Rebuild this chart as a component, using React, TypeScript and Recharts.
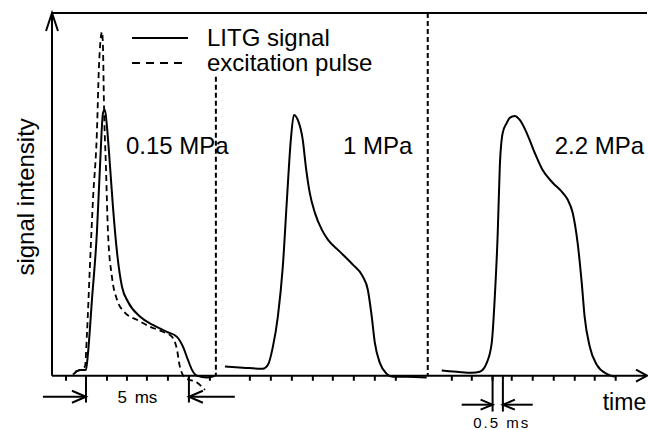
import { ComposedChart, Line, XAxis, YAxis, ReferenceLine, ReferenceDot, Legend } from "recharts";

const FONT = "'Liberation Sans', Arial, Helvetica, sans-serif";

// [time in ms, signal intensity in a.u. (100 = top of frame)]
const litg015 = [
  [1.02, 0.3], [1.36, 1.6], [1.65, 1.6], [1.75, 6.3], [1.94, 20.9], [2.18, 39.4], [2.33, 57.6],
  [2.48, 72.5], [2.57, 73.3], [2.67, 68.6], [2.82, 57.6], [2.96, 46.6], [3.16, 33.9], [3.4, 24.5],
  [3.69, 20.4], [4.27, 16.3], [4.9, 14.0], [5.58, 12.1], [6.07, 10.7], [6.36, 8.0], [6.6, 4.4],
  [6.8, 1.6], [7.04, 0], [7.52, -0.5], [7.91, 0],
];
const pulse015 = [
  [1.12, 1.1], [1.6, 2.5], [1.7, 11.8], [1.84, 30.0], [1.99, 48.5], [2.18, 66.9], [2.28, 85.1],
  [2.43, 94.8], [2.48, 89.8], [2.52, 76.0], [2.62, 57.6], [2.72, 39.4], [2.91, 27.3], [3.16, 20.9],
  [3.54, 17.4], [4.13, 15.4], [4.76, 13.5], [5.39, 12.1], [5.83, 10.7], [6.07, 7.2], [6.21, 2.5],
  [6.46, -0.5], [7.04, -1.9], [7.43, -3.9],
];
const litg1 = [
  [8.4, 2.5], [9.27, 2.2], [10.24, 1.9], [10.49, 3.0], [10.73, 8.0], [10.97, 16.3], [11.21, 30.0],
  [11.41, 48.5], [11.6, 65.0], [11.75, 71.9], [11.94, 70.5], [12.18, 65.0], [12.33, 57.6],
  [12.52, 50.4], [12.77, 44.9], [13.11, 40.2], [13.4, 37.5], [13.98, 34.2], [14.61, 30.6],
  [15.1, 27.3], [15.34, 23.7], [15.53, 16.3], [15.68, 9.1], [15.92, 3.6], [16.26, 0.5],
  [16.55, -0.3], [17.23, -0.3], [18.2, -0.5],
];
const litg22 = [
  [18.93, 1.4], [19.66, 1.1], [20.39, 0.8], [20.78, 1.1], [21.12, 3.6], [21.36, 9.1], [21.5, 20.9],
  [21.65, 39.4], [21.75, 57.6], [21.89, 66.9], [22.09, 69.7], [22.23, 71.1], [22.48, 71.6],
  [22.72, 70.5], [23.06, 66.9], [23.45, 61.4], [23.83, 56.7], [24.32, 53.2], [24.81, 50.4],
  [25.05, 48.5], [25.29, 44.9], [25.53, 36.6], [25.73, 25.6], [25.87, 16.3], [26.12, 8.0],
  [26.46, 3.0], [26.94, 0.5], [27.33, -0.3],
];

const ticks = [
  0.68, 1.65, 2.67, 3.64, 4.61, 5.63, 6.65, 7.67,
  9.61, 10.63, 11.65, 12.67, 13.64, 14.66, 15.68, 16.7,
  19.42, 20.39, 21.4, 22.33, 23.35, 24.37, 25.39, 26.36, 27.38,
];
const bar5ms = [1.65, 6.65];
const bar05ms = [21.4, 21.9];
const separators = [7.96, 18.25];
const pressures = ["0.15 MPa", "1 MPa", "2.2 MPa"];

const rows = (pts: number[][]) => pts.map(([t, v]) => ({ t, v }));

const arrow = (head: number, half: number) => (p: any) => {
  const { x1, y1, x2, y2 } = p;
  const len = Math.hypot(x2 - x1, y2 - y1) || 1;
  const ux = (x2 - x1) / len;
  const uy = (y2 - y1) / len;
  const bx = x2 - ux * head;
  const by = y2 - uy * head;
  return (
    <g stroke="#000" strokeWidth={2} fill="none">
      <line x1={x1} y1={y1} x2={x2} y2={y2} />
      <polyline points={`${bx - uy * half},${by + ux * half} ${x2},${y2} ${bx + uy * half},${by - ux * half}`} />
    </g>
  );
};

const label = (value: string, size: number, anchor = "start", rotate = 0, extra: any = {}) => (p: any) => (
  <text
    x={p.cx}
    y={p.cy}
    fontSize={size}
    fontFamily={FONT}
    fill="#000"
    textAnchor={anchor}
    transform={rotate ? `rotate(${rotate} ${p.cx} ${p.cy})` : undefined}
    {...extra}
  >
    {value}
  </text>
);

const LegendBox = ({ payload }: any) => (
  <div style={{ fontFamily: FONT, fontSize: 24, lineHeight: "25px", color: "#000" }}>
    {(payload || [])
      .filter((e: any) => e.type !== "none")
      .map((e: any) => (
        <div key={e.value} style={{ display: "flex", alignItems: "center", height: 25 }}>
          <svg width={56} height={4}>
            <line x1={0} y1={2} x2={56} y2={2} stroke="#000" strokeWidth={2}
              strokeDasharray={e.value === "excitation pulse" ? "8 6" : undefined} />
          </svg>
          <span style={{ marginLeft: 19 }}>{e.value}</span>
        </div>
      ))}
  </div>
);

export default function App() {
  return (
    <div style={{ position: "absolute", left: 0, top: 0 }}>
      <ComposedChart width={648} height={430} margin={{ top: 13, right: 1, bottom: 38, left: 52 }}>
        <XAxis type="number" dataKey="t" domain={[0, 28.9]} allowDataOverflow hide />
        <YAxis type="number" dataKey="v" domain={[-4.5, 100]} allowDataOverflow hide />

        {/* frame and axes */}
        <ReferenceLine segment={[{ x: 0, y: 100 }, { x: 28.9, y: 100 }]} stroke="#000" strokeWidth={2} ifOverflow="visible" />
        <ReferenceLine segment={[{ x: 0, y: 0 }, { x: 0, y: 100 }]} shape={arrow(18, 6)} ifOverflow="visible" />
        <ReferenceLine segment={[{ x: 0, y: 0 }, { x: 28.9, y: 0 }]} shape={arrow(11, 6)} ifOverflow="visible" />
        {ticks.map((t) => (
          <ReferenceLine key={t} segment={[{ x: t, y: 0 }, { x: t, y: -1.4 }]} stroke="#000" strokeWidth={2} ifOverflow="visible" />
        ))}
        <ReferenceLine segment={[{ x: separators[0], y: 82.4 }, { x: separators[0], y: 0 }]} stroke="#000" strokeWidth={2} strokeDasharray="5 3" ifOverflow="visible" />
        <ReferenceLine segment={[{ x: separators[1], y: 100 }, { x: separators[1], y: 0 }]} stroke="#000" strokeWidth={2} strokeDasharray="5 3" ifOverflow="visible" />

        {/* scale bars */}
        {[...bar5ms.map((t) => [t, -7.4]), ...bar05ms.map((t) => [t, -9.9])].map(([t, d]) => (
          <ReferenceLine key={"b" + t} segment={[{ x: t, y: 0 }, { x: t, y: d }]} stroke="#000" strokeWidth={2} ifOverflow="visible" />
        ))}
        <ReferenceLine segment={[{ x: -0.44, y: -5.8 }, { x: bar5ms[0], y: -5.8 }]} shape={arrow(14, 6)} ifOverflow="visible" />
        <ReferenceLine segment={[{ x: 8.88, y: -5.8 }, { x: bar5ms[1], y: -5.8 }]} shape={arrow(14, 6)} ifOverflow="visible" />
        <ReferenceLine segment={[{ x: 19.9, y: -8 }, { x: bar05ms[0], y: -8 }]} shape={arrow(12, 5)} ifOverflow="visible" />
        <ReferenceLine segment={[{ x: 23.35, y: -8 }, { x: bar05ms[1], y: -8 }]} shape={arrow(12, 5)} ifOverflow="visible" />

        {/* texts */}
        <ReferenceDot x={3.59} y={61.2} r={0} ifOverflow="visible" shape={label(pressures[0], 24)} />
        <ReferenceDot x={14.13} y={61.2} r={0} ifOverflow="visible" shape={label(pressures[1], 24)} />
        <ReferenceDot x={24.42} y={61.2} r={0} ifOverflow="visible" shape={label(pressures[2], 24)} />
        <ReferenceDot x={-0.87} y={49.3} r={0} ifOverflow="visible" shape={label("signal intensity", 24, "middle", -90)} />
        <ReferenceDot x={26.75} y={-9.4} r={0} ifOverflow="visible" shape={label("time", 23)} />
        <ReferenceDot x={4.15} y={-7.4} r={0} ifOverflow="visible" shape={label("5 ms", 17, "middle", 0, { wordSpacing: 3 })} />
        <ReferenceDot x={21.84} y={-14.4} r={0} ifOverflow="visible" shape={label("0.5 ms", 15, "middle", 0, { letterSpacing: 2 })} />

        <Line data={rows(litg015)} dataKey="v" name="LITG signal" type="monotone" stroke="#000" strokeWidth={2} dot={false} isAnimationActive={false} />
        <Line data={rows(pulse015)} dataKey="v" name="excitation pulse" type="monotone" stroke="#000" strokeWidth={1.8} strokeDasharray="6 4" dot={false} isAnimationActive={false} />
        <Line data={rows(litg1)} dataKey="v" name="LITG 1 MPa" legendType="none" type="monotone" stroke="#000" strokeWidth={2} dot={false} isAnimationActive={false} />
        <Line data={rows(litg22)} dataKey="v" name="LITG 2.2 MPa" legendType="none" type="monotone" stroke="#000" strokeWidth={2} dot={false} isAnimationActive={false} />

        <Legend content={<LegendBox />} layout="vertical" align="center" verticalAlign="middle"
          wrapperStyle={{ left: 132, top: 25, width: "auto" }} />
      </ComposedChart>
    </div>
  );
}
